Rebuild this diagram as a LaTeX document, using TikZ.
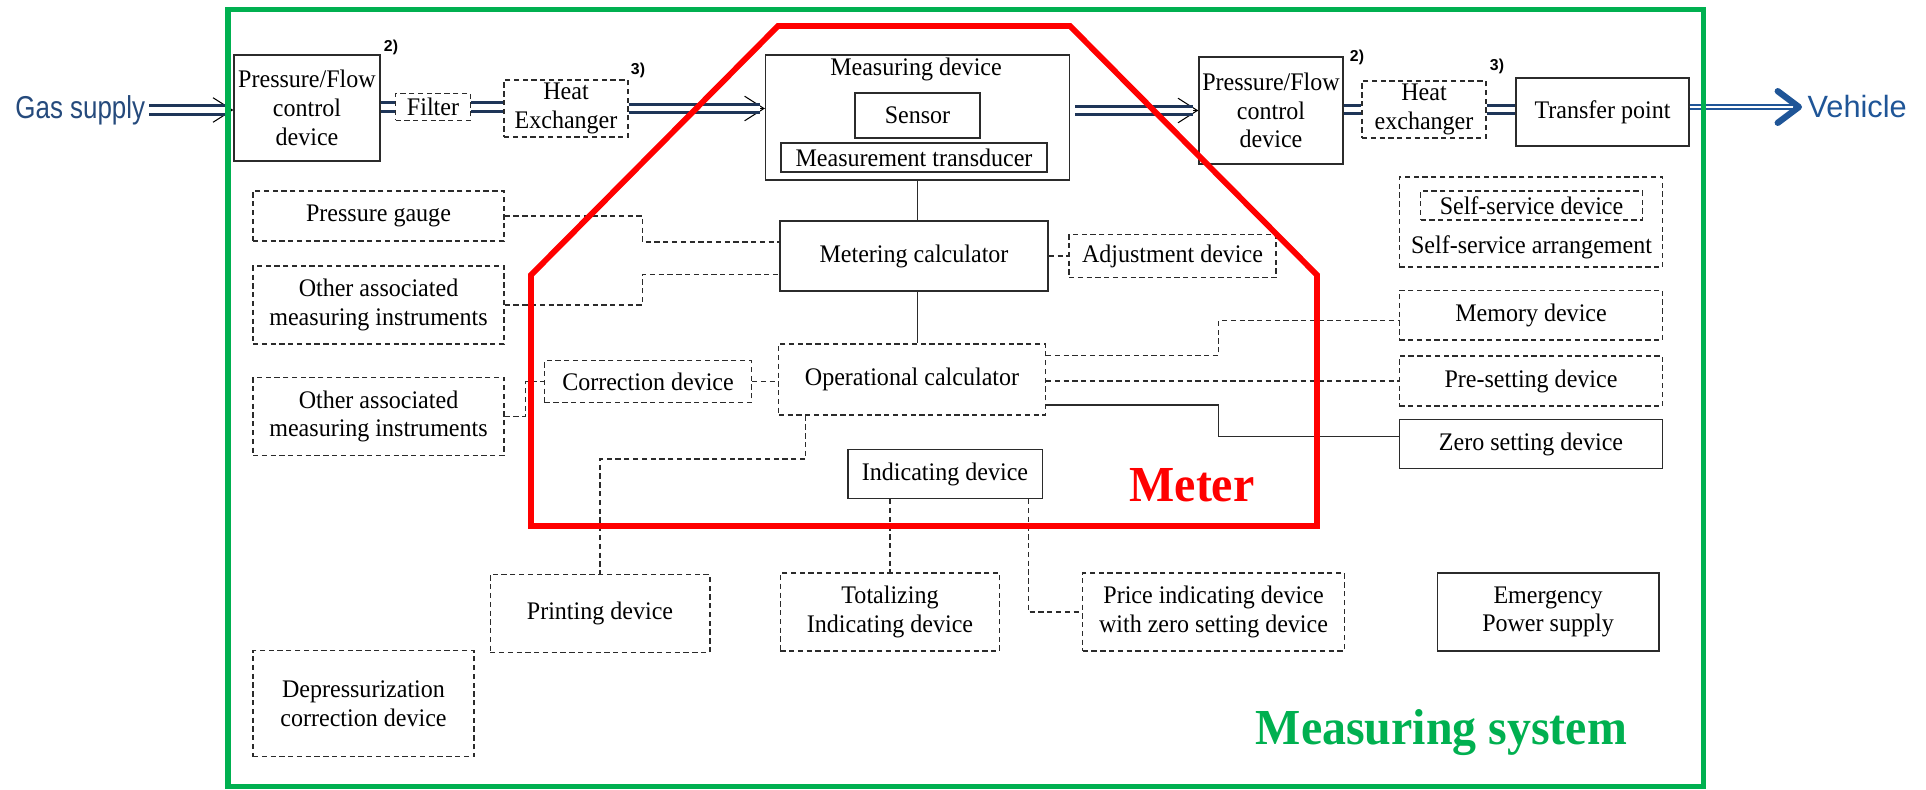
\documentclass[tikz,border=0pt]{standalone}
\usepackage{fontspec}
\setmainfont{Liberation Serif}[FakeStretch=0.95]
\newfontfamily\sansflujo{Liberation Sans}
\newfontfamily\sansangosta{Liberation Sans}[FakeStretch=0.82]
\usepackage{xcolor}
\usepackage{tikz}
\usetikzlibrary{arrows.meta, calc}
\definecolor{verdesistema}{HTML}{00B050}
\definecolor{rojomedidor}{HTML}{FF0000}
\definecolor{azulflujo}{HTML}{1E3558}
\definecolor{azulgas}{HTML}{254A7C}
\definecolor{azulvehiculo}{HTML}{1F5597}
\definecolor{grislinea}{HTML}{2B2B2B}
\newlength{\gu}
\setlength{\gu}{0.02cm}

\begin{document}
\begin{tikzpicture}[
    x=1\gu, y=-1\gu,
    every node/.style={font=\fontsize{14.4}{16.4}\selectfont},
    caja/.style={draw=grislinea, line width=0.8pt, inner sep=0pt, align=center},
    cajadash/.style={caja, dash pattern=on 3pt off 2pt},
    enlace/.style={draw=grislinea, line width=0.8pt},
    enlacedash/.style={enlace, dash pattern=on 3pt off 2pt},
    tubo/.style={draw=azulflujo, line width=1.5pt, double=white, double distance=3.4pt},
    punta/.style={draw=black, line width=0.6pt, -{Straight Barb[length=11pt, width=14pt]}},
    nota/.style={font=\sansflujo\bfseries\fontsize{9}{10}\selectfont, inner sep=0pt}
]
\useasboundingbox (0,0) rectangle (1926,790);

% linea de gas, entrada
\node[anchor=east, inner sep=2pt, text=azulgas, font=\sansangosta\fontsize{18}{20}\selectfont] (gas) at (149,110) {Gas supply};
\node[caja, minimum width=146\gu, minimum height=106\gu] (pf1) at (307,108) {Pressure/Flow\\control\\device};
\node[nota] (n2a) at (391,47) {2)};
\node[cajadash, minimum width=75\gu, minimum height=27\gu] (filtro) at (433,107) {Filter};
\node[cajadash, minimum width=124\gu, minimum height=57\gu] (he1) at (566,108.5) {Heat\\Exchanger};
\node[nota] (n3a) at (638,70) {3)};

% dispositivo de medida
\node[caja, minimum width=304\gu, minimum height=125\gu] (md) at (917.6,117.5) {};
\node (mdtxt) at (916,69) {Measuring device};
\node[caja, minimum width=125\gu, minimum height=45\gu] (sensor) at (917.5,115.5) {Sensor};
\node[caja, minimum width=266\gu, minimum height=29\gu] (transd) at (914,157.5) {Measurement transducer};

% linea de gas, salida
\node[caja, minimum width=144\gu, minimum height=107\gu] (pf2) at (1271,110.5) {Pressure/Flow\\control\\device};
\node[nota] (n2b) at (1357,57) {2)};
\node[cajadash, minimum width=124\gu, minimum height=57\gu] (he2) at (1424,109.5) {Heat\\exchanger};
\node[nota] (n3b) at (1497,66) {3)};
\node[caja, minimum width=173\gu, minimum height=68\gu] (tp) at (1602.5,112) {Transfer point};
\node[anchor=west, inner sep=3pt, text=azulvehiculo, font=\sansflujo\fontsize{17.5}{20}\selectfont] (veh) at (1802,107) {Vehicle};

% instrumentos asociados
\node[cajadash, minimum width=251\gu, minimum height=50\gu] (pg) at (378.5,216) {Pressure gauge};
\node[cajadash, minimum width=251\gu, minimum height=78\gu] (oami1) at (378.5,305) {Other associated\\measuring instruments};
\node[cajadash, minimum width=251\gu, minimum height=78\gu] (oami2) at (378.5,416.5) {Other associated\\measuring instruments};
\node[cajadash, minimum width=221\gu, minimum height=106\gu] (dep) at (363.5,703.7) {Depressurization\\correction device};

% calculadores
\node[caja, minimum width=268\gu, minimum height=70\gu] (mc) at (914,256) {Metering calculator};
\node[cajadash, minimum width=207\gu, minimum height=43\gu] (adj) at (1172.5,256) {Adjustment device};
\node[cajadash, minimum width=266.5\gu, minimum height=71\gu] (oc) at (912,379.5) {Operational calculator};
\node[cajadash, minimum width=206.6\gu, minimum height=42\gu] (cd) at (648,381.7) {Correction device};
\node[caja, minimum width=194.4\gu, minimum height=49\gu] (ind) at (945,474) {Indicating device};

% dispositivos a la derecha
\node[cajadash, minimum width=263.5\gu, minimum height=90\gu] (ssa) at (1531,222) {};
\node[cajadash, minimum width=222\gu, minimum height=29\gu] (ssd) at (1531.5,205.5) {Self-service device};
\node (ssatxt) at (1531.5,247) {Self-service arrangement};
\node[cajadash, minimum width=263.5\gu, minimum height=49.3\gu] (mem) at (1531,315.3) {Memory device};
\node[cajadash, minimum width=263.5\gu, minimum height=49.7\gu] (pre) at (1531,381) {Pre-setting device};
\node[caja, minimum width=263.5\gu, minimum height=49\gu] (zero) at (1531,444) {Zero setting device};

% fila inferior
\node[cajadash, minimum width=219.6\gu, minimum height=78\gu] (prn) at (600,613.3) {Printing device};
\node[cajadash, minimum width=219.4\gu, minimum height=77.7\gu] (tot) at (890,612) {Totalizing\\Indicating device};
\node[cajadash, minimum width=261.7\gu, minimum height=77.7\gu] (price) at (1213.5,612) {Price indicating device\\with zero setting device};
\node[caja, minimum width=221.6\gu, minimum height=77.7\gu] (emer) at (1548,612) {Emergency\\Power supply};

% titulos
\node[anchor=base, text=rojomedidor, font=\bfseries\fontsize{28.7}{32}\selectfont] (medidor) at (1192,501) {Meter};
\node[anchor=base, text=verdesistema, font=\bfseries\fontsize{28.7}{32}\selectfont] (sistema) at (1441.5,744) {Measuring system};

% flujo de gas
\draw[punta] (gas.east) -- (gas.east -| pf1.west);
\draw[tubo, shorten >=3pt] (gas.east) -- (gas.east -| pf1.west);
\draw[tubo] (filtro.west -| pf1.east) -- (filtro.west);
\draw[tubo] (filtro.east) -- (filtro.east -| he1.west);
\draw[punta] (he1.east) -- (he1.east -| md.west);
\draw[tubo, shorten >=3pt] (he1.east) -- (he1.east -| md.west);
\draw[punta, shorten <=5\gu] (pf2.west -| md.east) -- (pf2.west);
\draw[tubo, shorten <=5\gu, shorten >=3pt] (pf2.west -| md.east) -- (pf2.west);
\draw[tubo] (he2.west -| pf2.east) -- (he2.west);
\draw[tubo] (he2.east) -- (he2.east -| tp.west);
\draw[azulvehiculo, line width=0.5pt, -{Straight Barb[length=12pt, width=18pt, line width=3.6pt, round]}] (veh.west -| tp.east) -- (veh.west);
\draw[azulvehiculo, line width=1.1pt, double=white, double distance=1.6pt, shorten >=5pt] (veh.west -| tp.east) -- (veh.west);

% conexiones entre dispositivos
\coordinate (colizq) at (642.5,0);
\coordinate (colder) at (1218.5,0);
\draw[enlace] (md.south) -- (md.south |- mc.north);
\draw[enlace] (md.south |- mc.south) -- (md.south |- oc.north);
\draw[enlacedash] (pg.east) -- (pg.east -| colizq) |- ($(mc.west)+(0,-14)$);
\draw[enlacedash] (oami1.east) -- (oami1.east -| colizq) |- ($(mc.west)+(0,18.5)$);
\draw[enlacedash] (mc.east) -- (adj.west);
\draw[enlacedash] (oami2.east) -- ++(20.7,0) |- (cd.west);
\draw[enlacedash] (cd.east) -- (cd.east -| oc.west);
\coordinate (ocmem) at ($(oc.east)+(0,-24)$);
\draw[enlacedash] (ocmem) -- (ocmem -| colder) |- ($(mem.west)+(0,5.4)$);
\draw[enlacedash] (oc.east |- pre.west) -- (pre.west);
\coordinate (oczero) at ($(oc.east)+(0,25.5)$);
\draw[enlace] (oczero) -- (oczero -| colder) |- ($(zero.west)+(0,-7.5)$);
\coordinate (ocprn) at ($(oc.south west)+(27.7,0)$);
\draw[enlacedash] (ocprn) -- ++(0,43.3) -| (prn.north);
\draw[enlacedash] (tot.north |- ind.south) -- (tot.north);
\coordinate (indprc) at ($(ind.south east)+(-14.7,0)$);
\draw[enlacedash] (indprc) |- (price.west);

% contorno del medidor
\draw[rojomedidor, line width=3.3pt, line join=miter] (531,275) -- (778,26) -- (1070,26) -- (1317,275) -- (1317,526) -- (531,526) -- cycle;
% marco del sistema de medida
\draw[verdesistema, line width=3.3pt] (228,9.5) rectangle (1703.5,786.5);
\end{tikzpicture}
\end{document}
